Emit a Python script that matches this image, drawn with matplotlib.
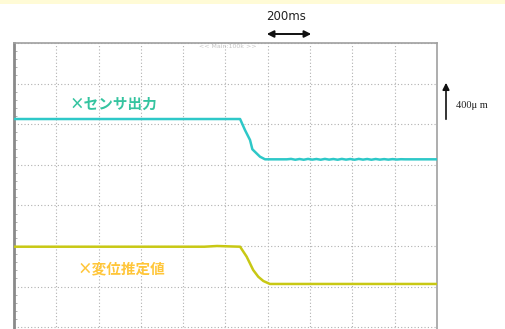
import matplotlib
matplotlib.use("Agg")
import matplotlib.pyplot as plt
from matplotlib.patches import FancyArrowPatch

# Time axis in ms (200 ms / div), displacement in µm (400 µm / div)
x_div_ms = 200
y_div_um = 400
n_xdiv = 10
n_ydiv = 8

# x sensor output
sensor_t = [0, 1069, 1092, 1116, 1127, 1163, 1187, 1290, 1310, 1330, 1350, 1370,
            1390, 1410, 1430, 1450, 1470, 1490, 1510, 1530, 1550, 1570, 1590,
            1610, 1630, 1650, 1670, 1690, 1710, 1730, 1750, 1770, 1790, 1810,
            1830, 1850, 2000]
sensor_um = [2451, 2451, 2343, 2244, 2153, 2080, 2054, 2054, 2058, 2050, 2057,
             2050, 2058, 2051, 2057, 2050, 2058, 2051, 2057, 2050, 2058, 2051,
             2057, 2050, 2058, 2051, 2057, 2050, 2057, 2051, 2056, 2051, 2056,
             2052, 2055, 2054, 2054]

# x estimated displacement
estimate_t = [0, 900, 960, 1020, 1069, 1100, 1131, 1155, 1179, 1210, 2000]
estimate_um = [1193, 1193, 1200, 1196, 1193, 1095, 963, 897, 855, 826, 826]

sensor_label = "×センサ出力"
estimate_label = "×変位推定値"
scale_x_label = "200ms"
scale_y_label = "400μ m"
header_label = "<< Main:100k >>"

W, H = 506, 329
fig = plt.figure(figsize=(W / 100, H / 100), dpi=100)
fig.patch.set_facecolor("white")

# pale band along the top edge
fig.patches.append(plt.Rectangle((0, 1 - 4 / H), 1, 4 / H, transform=fig.transFigure,
                                 facecolor="#fffbd6", edgecolor="none", zorder=0))

ax_left, ax_right = 14 / W, 437 / W
ax_top = 1 - 43 / H
ax_h = 324.8 / H
ax = fig.add_axes([ax_left, ax_top - ax_h, ax_right - ax_left, ax_h])
ax.set_xlim(0, n_xdiv * x_div_ms)
ax.set_ylim(0, n_ydiv * y_div_um)
ax.set_xticks([i * x_div_ms for i in range(n_xdiv + 1)])
ax.set_yticks([i * y_div_um for i in range(n_ydiv + 1)])
ax.grid(True, color="#b0b0b0", linestyle=(0, (1, 2)), linewidth=0.8)
ax.tick_params(length=0, labelbottom=False, labelleft=False)
for s in ax.spines.values():
    s.set_color("#a0a0a0")
    s.set_linewidth(1.2)
ax.spines["left"].set_color("#8a8a8a")
ax.spines["left"].set_linewidth(2.0)

# minor marks along the left edge
ax.set_yticks([i * 80 for i in range(n_ydiv * 5 + 1)], minor=True)
ax.tick_params(axis="y", which="minor", length=2, direction="in", color="#b0b0b0", width=0.7)

ax.plot(sensor_t, sensor_um, color="#2ec8c8", linewidth=1.8, solid_joinstyle="round", zorder=3)
ax.plot(estimate_t, estimate_um, color="#c8c814", linewidth=1.8, solid_joinstyle="round", zorder=3)

ax.text(262, 2600, sensor_label, color="#35c4a0", fontsize=10.5, fontweight="bold",
        family=["Noto Sans CJK JP", "DejaVu Sans"], va="center", ha="left")
ax.text(300, 980, estimate_label, color="#ffc63a", fontsize=10.5, fontweight="bold",
        family=["Noto Sans CJK JP", "DejaVu Sans"], va="center", ha="left")

# header text at the top of the grid
fig.text(228 / W, 1 - 47 / H, header_label, color="#c4c4c4", fontsize=4.5,
         ha="center", va="center")

# time scale marker
fig.text(286 / W, 1 - 16 / H, scale_x_label, color="#222222", fontsize=8.5,
         ha="center", va="center", family="DejaVu Sans")
fig.patches.append(FancyArrowPatch((264 / W, 1 - 34 / H), (314 / W, 1 - 34 / H),
                                   transform=fig.transFigure, arrowstyle="<|-|>",
                                   mutation_scale=10, color="#111111", linewidth=1.4))

# displacement scale marker
fig.patches.append(FancyArrowPatch((446 / W, 1 - 122 / H), (446 / W, 1 - 80 / H),
                                   transform=fig.transFigure, arrowstyle="-|>",
                                   mutation_scale=10, color="#111111", linewidth=1.2))
fig.text(456 / W, 1 - 105 / H, scale_y_label, color="#222222", fontsize=7.5,
         ha="left", va="center", family=["Liberation Serif", "DejaVu Serif"])

fig.savefig("out.png", dpi=100)
